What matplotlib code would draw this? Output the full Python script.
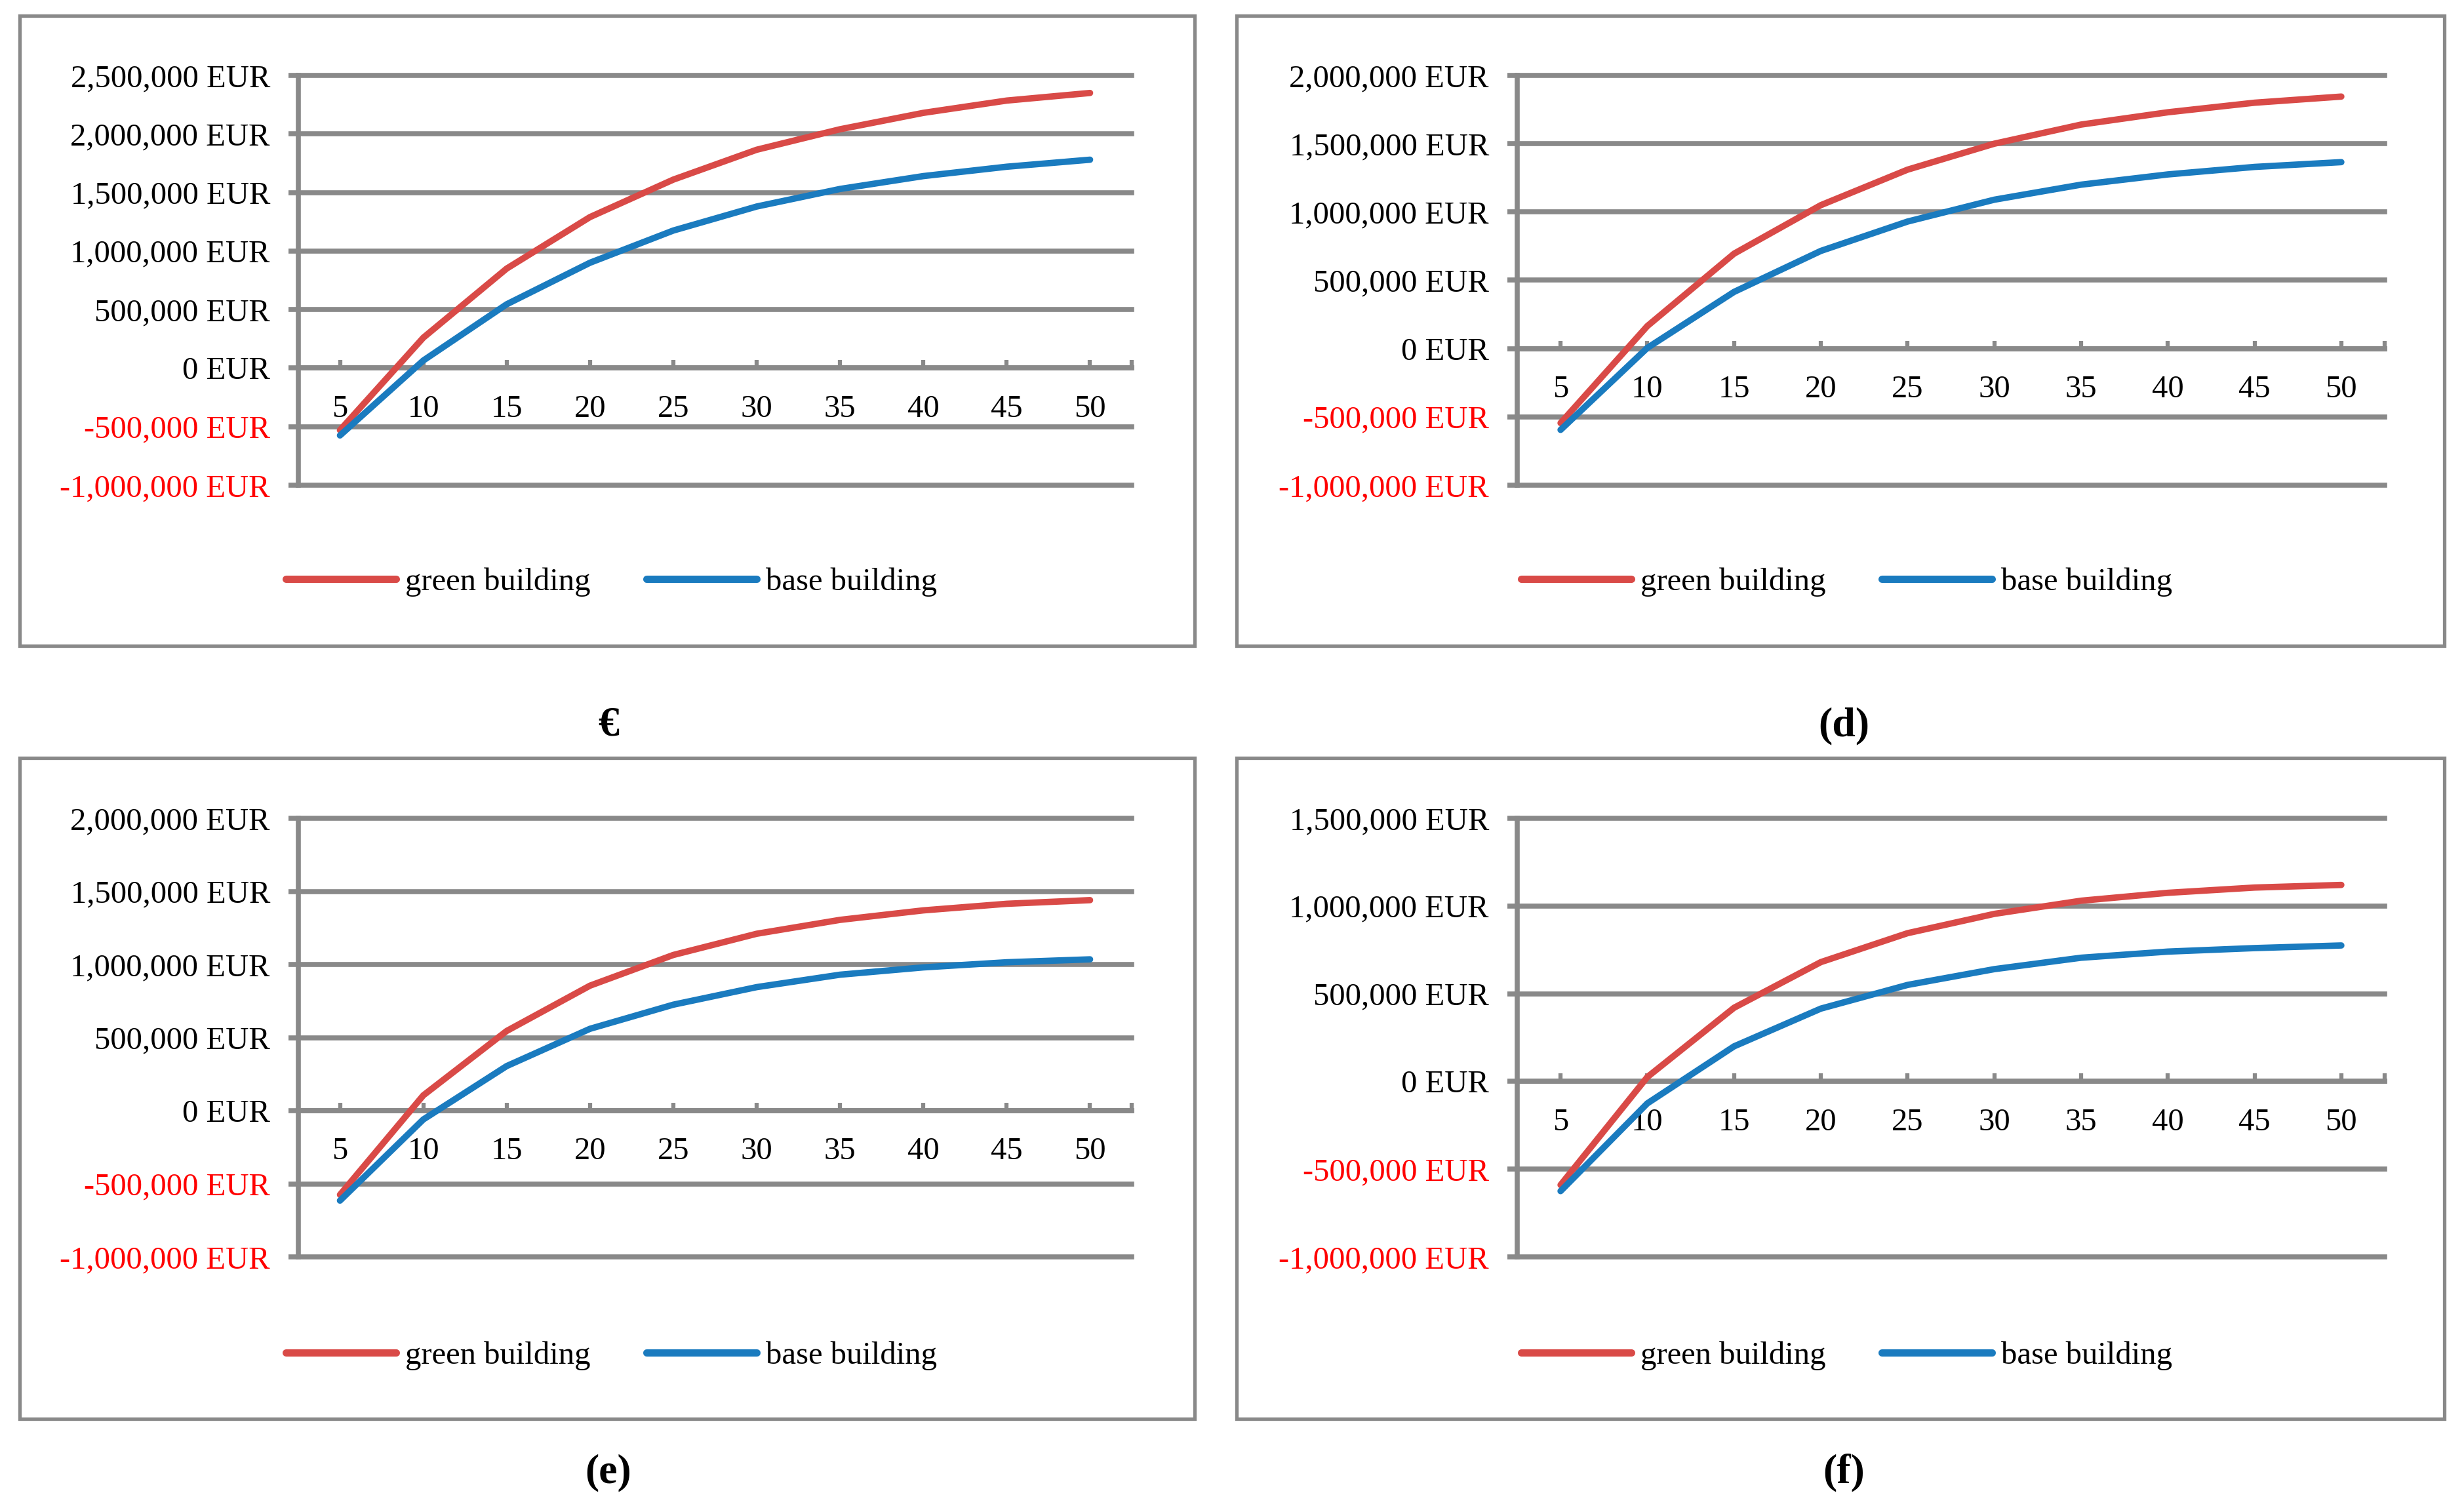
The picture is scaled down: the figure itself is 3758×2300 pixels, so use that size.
import matplotlib
matplotlib.use("Agg")
import matplotlib.pyplot as plt
from matplotlib.patches import Rectangle
from matplotlib.ticker import FuncFormatter

plt.rcParams['font.family'] = ['Liberation Serif', 'DejaVu Serif']

# ---------------- data ----------------
years = [5, 10, 15, 20, 25, 30, 35, 40, 45, 50]

green_c = [-530e3, 260e3, 850e3, 1290e3, 1610e3, 1865e3, 2040e3, 2180e3, 2285e3, 2350e3]
base_c = [-575e3, 65e3, 545e3, 900e3, 1175e3, 1380e3, 1530e3, 1640e3, 1720e3, 1780e3]

green_d = [-545e3, 165e3, 695e3, 1050e3, 1310e3, 1500e3, 1640e3, 1730e3, 1800e3, 1845e3]
base_d = [-595e3, 5e3, 415e3, 715e3, 930e3, 1090e3, 1200e3, 1275e3, 1330e3, 1365e3]

green_e = [-575e3, 105e3, 545e3, 855e3, 1065e3, 1210e3, 1305e3, 1370e3, 1415e3, 1440e3]
base_e = [-615e3, -60e3, 305e3, 560e3, 725e3, 845e3, 930e3, 980e3, 1015e3, 1035e3]

green_f = [-590e3, 25e3, 420e3, 680e3, 845e3, 955e3, 1030e3, 1075e3, 1105e3, 1120e3]
base_f = [-625e3, -125e3, 200e3, 415e3, 550e3, 640e3, 705e3, 740e3, 760e3, 775e3]

series_names = ["green building", "base building"]
panel_labels = ["\u20ac", "(d)", "(e)", "(f)"]
y_max = [2.5e6, 2.0e6, 2.0e6, 1.5e6]
y_min = -1.0e6
y_step = 5e5

# ---------------- style ----------------
W, H = 3758, 2300
RED = '#D94A47'
BLUE = '#1A7BBF'
GRAY = '#898989'
FS = 35

fig = plt.figure(figsize=(W / 100, H / 100), dpi=100)


def fx(px):
    return px / W


def fy(py):
    return 1 - py / H


panels = [
    dict(box=(30, 24, 1822, 985), ax=(455, 1726, 115, 740), leg=(436, 888), lab=(928, 1107)),
    dict(box=(1886, 24, 3728, 985), ax=(2314, 3637, 115, 740), leg=(2320, 888), lab=(2812, 1107)),
    dict(box=(30, 1156, 1822, 2164), ax=(455, 1726, 1248, 1917), leg=(436, 2068), lab=(928, 2246)),
    dict(box=(1886, 1156, 3728, 2164), ax=(2314, 3637, 1248, 1917), leg=(2320, 2068), lab=(2812, 2246)),
]
greens = [green_c, green_d, green_e, green_f]
bases = [base_c, base_d, base_e, base_f]


def fmt(v, pos):
    return "{:,.0f} EUR".format(v)


for i, p in enumerate(panels):
    x0, y0, x1, y1 = p['box']
    fig.add_artist(Rectangle((fx(x0), fy(y1)), fx(x1) - fx(x0), fy(y0) - fy(y1),
                             transform=fig.transFigure, fill=False,
                             edgecolor=GRAY, linewidth=3.8, zorder=0))
    l, r, t, b = p['ax']
    ax = fig.add_axes([fx(l), fy(b), fx(r) - fx(l), fy(t) - fy(b)])
    ax.set_facecolor('none')

    lg, = ax.plot(years, greens[i], color=RED, lw=7, solid_capstyle='round',
                  solid_joinstyle='round', zorder=5, clip_on=False, label=series_names[0])
    lb, = ax.plot(years, bases[i], color=BLUE, lw=7, solid_capstyle='round',
                  solid_joinstyle='round', zorder=5, clip_on=False, label=series_names[1])

    ax.set_xlim(2.5, 52.5)
    ax.set_ylim(y_min, y_max[i])
    yt = []
    v = y_min
    while v <= y_max[i] + 1:
        yt.append(v)
        v += y_step
    ax.set_yticks(yt)
    ax.yaxis.set_major_formatter(FuncFormatter(fmt))
    ax.set_xticks(years)
    ax.set_xticks([52.5], minor=True)

    ax.grid(axis='y', color=GRAY, lw=5.5)
    for gl in ax.get_ygridlines():
        gl.set_clip_on(False)
    ax.set_axisbelow(True)

    for s in ['top', 'right']:
        ax.spines[s].set_visible(False)
    ax.spines['left'].set_color(GRAY)
    ax.spines['left'].set_linewidth(5.5)
    ax.spines['bottom'].set_color(GRAY)
    ax.spines['bottom'].set_linewidth(5.5)
    ax.spines['bottom'].set_position(('data', 0))

    ax.tick_params(axis='y', direction='out', length=11, width=5.5, color=GRAY,
                   pad=20, labelsize=FS)
    ax.tick_params(axis='x', which='both', direction='in', length=9, width=4.5,
                   color=GRAY, pad=29, labelsize=FS)
    for lbl, val in zip(ax.get_yticklabels(), yt):
        lbl.set_color('#FF0000' if val < 0 else 'black')

    lx, ly = p['leg']
    leg = ax.legend(handles=[lg, lb], loc='center left', bbox_to_anchor=(fx(lx), fy(ly)),
                    bbox_transform=fig.transFigure, ncol=2, frameon=False, fontsize=FS,
                    handlelength=3.45, handletextpad=0.3, columnspacing=1.75,
                    borderpad=0, borderaxespad=0)
    for hl in leg.get_lines():
        hl.set_linewidth(8)

    tx, ty = p['lab']
    fig.text(fx(tx), fy(ty), panel_labels[i], ha='center', va='center',
             fontsize=46, fontweight='bold')

fig.savefig('out.png', dpi=100, facecolor='white')
